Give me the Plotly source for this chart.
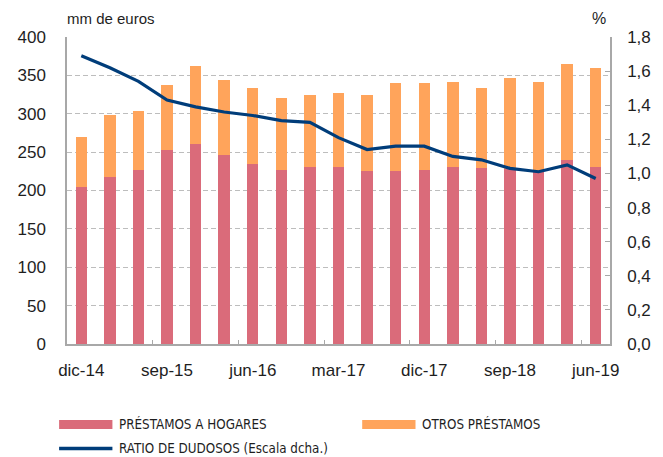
import plotly.graph_objects as go

# ---- data ----
quarters = ["dic-14", "mar-15", "jun-15", "sep-15", "dic-15", "mar-16", "jun-16",
            "sep-16", "dic-16", "mar-17", "jun-17", "sep-17", "dic-17", "mar-18",
            "jun-18", "sep-18", "dic-18", "mar-19", "jun-19"]
prestamos_hogares = [204, 218, 227, 253, 261, 246, 235, 227, 230, 231, 225, 226, 227,
                     231, 229, 228, 226, 240, 230]
otros_prestamos = [66, 80, 76, 85, 101, 98, 98, 94, 95, 96, 99, 114, 113, 110, 105,
                   118, 115, 125, 130]
ratio_dudosos = [1.69, 1.62, 1.54, 1.43, 1.39, 1.36, 1.34, 1.31, 1.30, 1.21, 1.14,
                 1.16, 1.16, 1.10, 1.08, 1.03, 1.01, 1.05, 0.97]
left_ticks = [0, 50, 100, 150, 200, 250, 300, 350, 400]
right_ticks = [0, 0.2, 0.4, 0.6, 0.8, 1.0, 1.2, 1.4, 1.6, 1.8]

# ---- style ----
C_HOG = "#DA6B7A"
C_OTR = "#FFA45B"
C_LINE = "#003D7A"
C_AXIS = "#A8A8A8"
C_GRID = "#BDBDBD"
TXT = "#1E1E1E"
FONT = "Liberation Sans, Arial, Helvetica, sans-serif"
NARROW = "Liberation Sans Narrow, Arial Narrow, DejaVu Sans Condensed, sans-serif"

W, H = 663, 457
ML, MR, MT, MB = 67, 46, 37, 113
PW, PH = W - ML - MR, H - MT - MB

def px_x(p):
    return (p - ML) / PW

def px_y(p):
    return (H - MB - p) / PH

idx = list(range(len(quarters)))

fig = go.Figure()
fig.add_trace(go.Bar(x=idx, y=prestamos_hogares, name="PRÉSTAMOS A HOGARES",
                     marker=dict(color=C_HOG, line=dict(width=0)), width=0.4))
fig.add_trace(go.Bar(x=idx, y=otros_prestamos, name="OTROS PRÉSTAMOS",
                     marker=dict(color=C_OTR, line=dict(width=0)), width=0.4))
fig.add_trace(go.Scatter(x=idx, y=ratio_dudosos, name="RATIO DE DUDOSOS (Escala dcha.)",
                         mode="lines", line=dict(color=C_LINE, width=3.2), yaxis="y2"))

tick_idx = idx[::3]
fig.update_layout(
    width=W, height=H,
    margin=dict(l=ML, r=MR, t=MT, b=MB, pad=0),
    barmode="stack",
    showlegend=False,
    plot_bgcolor="white", paper_bgcolor="white",
    separators=",.",
    font=dict(family=FONT, size=17, color=TXT),
    xaxis=dict(
        range=[-0.5, len(quarters) - 0.5],
        tickmode="array", tickvals=tick_idx, ticktext=[quarters[i] for i in tick_idx],
        ticks="", showline=True, linecolor=C_AXIS, linewidth=1.5,
        showgrid=False, zeroline=False, ticklabelstandoff=10,
        tickfont=dict(size=17),
        minor=dict(tickmode="array", tickvals=[i + 2.5 for i in tick_idx[:-1]],
                   ticks="inside", ticklen=4, tickcolor=C_AXIS, tickwidth=1.2,
                   showgrid=False),
    ),
    yaxis=dict(
        range=[0, 400], tickmode="array", tickvals=left_ticks,
        showline=True, linecolor=C_AXIS, linewidth=1.5, ticks="",
        showgrid=True, gridcolor=C_GRID, gridwidth=1, griddash="5px,3px",
        zeroline=False, ticklabelstandoff=16, tickfont=dict(size=17),
    ),
    yaxis2=dict(
        range=[0, 1.8], overlaying="y", side="right", tickmode="array",
        tickvals=right_ticks, tickformat=".1f",
        showline=True, linecolor=C_AXIS, linewidth=1.5,
        ticks="inside", ticklen=5, tickcolor=C_AXIS, tickwidth=1.2,
        showgrid=False, zeroline=False, ticklabelstandoff=12,
        tickfont=dict(size=17),
    ),
)

# axis unit titles
fig.add_annotation(text="mm de euros", xref="paper", yref="paper",
                   x=px_x(65), y=px_y(19), xanchor="left", yanchor="middle",
                   showarrow=False, font=dict(size=15, color=TXT, family=FONT))
fig.add_annotation(text="%", xref="paper", yref="paper",
                   x=px_x(606), y=px_y(19), xanchor="center", yanchor="middle",
                   showarrow=False, font=dict(size=16, color=TXT, family=FONT))

# manual legend
legend_items = [
    ("rect", C_HOG, "PRÉSTAMOS A HOGARES", 59, 113, 424.5, 118),
    ("rect", C_OTR, "OTROS PRÉSTAMOS", 366, 420, 424.5, 425),
    ("line", C_LINE, "RATIO DE DUDOSOS (Escala dcha.)", 59, 113, 448.5, 118),
]
for kind, col, label, x0, x1, yc, tx in legend_items:
    if kind == "rect":
        fig.add_shape(type="rect", xref="paper", yref="paper",
                      x0=px_x(x0), x1=px_x(x1), y0=px_y(yc - 4.5), y1=px_y(yc + 4.5),
                      fillcolor=col, line=dict(width=0))
    else:
        fig.add_shape(type="line", xref="paper", yref="paper",
                      x0=px_x(x0), x1=px_x(x1), y0=px_y(yc), y1=px_y(yc),
                      line=dict(color=col, width=3.5))
    fig.add_annotation(text=label, xref="paper", yref="paper",
                       x=px_x(tx), y=px_y(yc), xanchor="left", yanchor="middle",
                       showarrow=False, font=dict(size=13.3, color=TXT, family=NARROW))

fig.write_html("out.html", config={"displayModeBar": False},
               post_script="document.body.style.margin='0';document.body.style.overflow='hidden';")
